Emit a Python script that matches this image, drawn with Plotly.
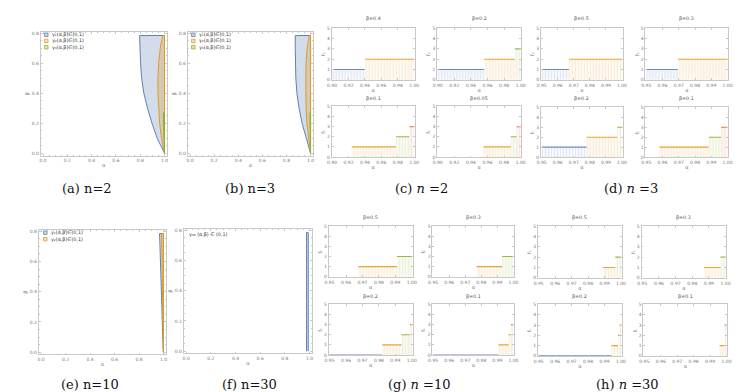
import plotly.graph_objects as go

W, H = 750, 392

# ---------------- region plots data (alpha boundaries vs beta) ----------------
beta_grid = [0.0, 0.1, 0.2, 0.3, 0.4, 0.5, 0.6, 0.7, 0.785]
n2_g1_left = [1.0, 0.94, 0.897, 0.86, 0.83, 0.812, 0.803, 0.798, 0.795]
n2_g2_left = [1.0, 0.975, 0.96, 0.95, 0.946, 0.946, 0.952, 0.965, 0.985]
n3_g1_left = [1.0, 0.962, 0.93, 0.905, 0.887, 0.878, 0.874, 0.873, 0.873]
n3_g2_left = [1.0, 0.982, 0.97, 0.963, 0.96, 0.96, 0.963, 0.972, 0.99]
green_beta = [0.0, 0.1, 0.2, 0.27]
n2_g3_left = [1.0, 0.994, 0.992, 0.992]
n3_g3_left = [1.0, 0.996, 0.995, 0.995]
wedge_beta = [0.0, 0.785]
n10_g1_left = [0.998, 0.968]
n10_g2_left = [1.0, 0.984]
n30_left = [0.976, 0.976]
n30_right = [0.99, 0.99]

legend_n2 = ["γ₁(α,β)∈(0,1)", "γ₂(α,β)∈(0,1)", "γ₃(α,β)∈(0,1)"]
legend_n10 = ["γ₁(α,β)∈(0,1)", "γ₂(α,β)∈(0,1)"]
legend_n30 = ["γ₃₀ (α,β) ∈ (0,1)"]

# ---------------- step plots data: (alpha_start, alpha_end, level, gamma index) ----------------
c_titles = ["β=0.4", "β=0.2", "β=0.1", "β=0.05"]
c_steps = [
    [(0.90, 0.94, 1, 0), (0.94, 1.00, 2, 1)],
    [(0.90, 0.956, 1, 0), (0.956, 0.993, 2, 1), (0.993, 1.0, 3, 2)],
    [(0.924, 0.978, 1, 1), (0.978, 0.994, 2, 2), (0.994, 1.0, 3, 3)],
    [(0.955, 0.988, 1, 1), (0.988, 0.995, 2, 2), (0.995, 1.0, 3, 3)],
]
d_titles = ["β=0.5", "β=0.3", "β=0.2", "β=0.1"]
d_steps = [
    [(0.95, 0.967, 1, 0), (0.967, 1.0, 2, 1)],
    [(0.95, 0.9695, 1, 0), (0.9695, 1.0, 2, 1)],
    [(0.95, 0.978, 1, 0), (0.978, 0.997, 2, 1), (0.997, 1.0, 3, 2)],
    [(0.958, 0.9885, 1, 1), (0.9885, 0.996, 2, 2), (0.996, 1.0, 3, 3)],
]
g_titles = ["β=0.5", "β=0.3", "β=0.2", "β=0.1"]
g_steps = [
    [(0.9675, 0.991, 1, 1), (0.991, 1.0, 2, 2)],
    [(0.977, 0.993, 1, 1), (0.993, 1.0, 2, 2)],
    [(0.95, 0.982, 0, 0), (0.982, 0.9937, 1, 1), (0.9937, 0.999, 2, 2), (0.999, 1.0, 3, 3)],
    [(0.95, 0.9906, 0, 0), (0.9906, 0.997, 1, 1), (0.997, 0.9986, 2, 2), (0.9986, 1.0, 3, 3)],
]
h_titles = ["β=0.5", "β=0.3", "β=0.2", "β=0.1"]
h_steps = [
    [(0.989, 0.9966, 1, 1), (0.9966, 1.0, 2, 2)],
    [(0.987, 0.997, 1, 1), (0.997, 1.0, 2, 2)],
    [(0.95, 0.9942, 0, 0), (0.9942, 0.9982, 1, 1), (0.9982, 0.9992, 2, 2), (0.9992, 1.0, 3, 3)],
    [(0.9958, 0.9988, 1, 1), (0.9988, 1.0, 3, 3)],
]
c_ticks = [0.90, 0.92, 0.94, 0.96, 0.98, 1.00]
dgh_ticks = [0.95, 0.96, 0.97, 0.98, 0.99, 1.00]
level_ticks = [0, 1, 2, 3, 4, 5]
region_xticks = [0.0, 0.2, 0.4, 0.6, 0.8, 1.0]
region_yticks = [0.0, 0.2, 0.4, 0.6, 0.8]

captions = ["(a) n=2", "(b) n=3", "(c) <i>n</i> =2", "(d) <i>n</i> =3",
            "(e) n=10", "(f) n=30", "(g) <i>n</i> =10", "(h) <i>n</i> =30"]

# ---------------- styles ----------------
COLS = [(94, 129, 181), (225, 156, 36), (143, 176, 50), (235, 98, 53)]
def rgb(i, a=1.0):
    r, g, b = COLS[i]
    return f"rgba({r},{g},{b},{a})"

FRAME = "#c8c8c8"
TICKF = dict(size=4.5, color="#777", family="DejaVu Sans")
TITLEF = dict(size=5, color="#777", family="DejaVu Sans")

fig = go.Figure()
layout = {}
annotations = []
shapes = []

def px_dom_x(a, b):
    return [a / W, b / W]

def px_dom_y(top, bot):
    return [1 - bot / H, 1 - top / H]

axis_count = [0]

def new_axes(xpx, ypx, xr, yr, xt, yt, xfmt, xtitle, ytitle, minor_x=None, minor_y=None):
    axis_count[0] += 1
    i = axis_count[0]
    sx = "" if i == 1 else str(i)
    common = dict(showline=True, mirror="ticks", linecolor=FRAME, linewidth=0.8,
                  ticks="inside", ticklen=2, tickcolor=FRAME, tickwidth=0.6,
                  showgrid=False, zeroline=False, tickfont=TICKF, fixedrange=True)
    xa = dict(common, domain=px_dom_x(*xpx), range=xr, tickvals=xt,
              ticktext=[format(v, xfmt) for v in xt], anchor="y" + sx,
              title=dict(text=xtitle, font=TITLEF, standoff=1))
    ya = dict(common, domain=px_dom_y(*ypx), range=yr, tickvals=yt,
              ticktext=[format(v, ".1f") if isinstance(v, float) else str(v) for v in yt],
              anchor="x" + sx, title=dict(text=ytitle, font=TITLEF, standoff=1))
    if minor_x:
        xa["minor"] = dict(ticks="inside", ticklen=1, dtick=minor_x, tickcolor=FRAME)
    if minor_y:
        ya["minor"] = dict(ticks="inside", ticklen=1, dtick=minor_y, tickcolor=FRAME)
    layout["xaxis" + sx] = xa
    layout["yaxis" + sx] = ya
    return "x" + sx, "y" + sx

def region(xa, ya, betas, left, right, ci):
    if right is None:
        right = [1.0] * len(left)
    xs = list(left) + list(reversed(right))
    ys = list(betas) + list(reversed(betas))
    fig.add_trace(go.Scatter(x=xs, y=ys, fill="toself", mode="lines",
                             line=dict(color=rgb(ci), width=1),
                             fillcolor=rgb(ci, 0.28), xaxis=xa, yaxis=ya,
                             showlegend=False, hoverinfo="skip"))

def legend(items, x0, y0, dy, square=True):
    for k, t in enumerate(items):
        yc = y0 + k * dy
        tx = x0
        if square:
            shapes.append(dict(type="rect", xref="paper", yref="paper",
                               x0=x0 / W, x1=(x0 + 3.5) / W,
                               y0=1 - (yc + 1.75) / H, y1=1 - (yc - 1.75) / H,
                               line=dict(color=rgb(k), width=0.8), fillcolor=rgb(k, 0.3)))
            tx = x0 + 5
        annotations.append(dict(text=t, x=tx / W, y=1 - yc / H, xref="paper", yref="paper",
                                xanchor="left", yanchor="middle", showarrow=False,
                                font=dict(size=4.8, color="#333", family="DejaVu Sans")))

RX = [-0.02, 1.02]
RY = [-0.015, 0.81]

# (a)
xa, ya = new_axes((28, 156), (22, 147), RX, RY, region_xticks, region_yticks, ".1f", "α", "β", 0.05, 0.05)
region(xa, ya, beta_grid, n2_g1_left, None, 0)
region(xa, ya, beta_grid, n2_g2_left, None, 1)
region(xa, ya, green_beta, n2_g3_left, None, 2)
legend(legend_n2, 32, 25, 6.3)
# (b)
xa, ya = new_axes((177, 304), (22, 147), RX, RY, region_xticks, region_yticks, ".1f", "α", "β", 0.05, 0.05)
region(xa, ya, beta_grid, n3_g1_left, None, 0)
region(xa, ya, beta_grid, n3_g2_left, None, 1)
region(xa, ya, green_beta, n3_g3_left, None, 2)
legend(legend_n2, 181, 25, 6.3)
# (e)
xa, ya = new_axes((26, 155), (222, 348), RX, RY, region_xticks, region_yticks, ".1f", "α", "β", 0.05, 0.05)
region(xa, ya, wedge_beta, n10_g1_left, None, 0)
region(xa, ya, wedge_beta, n10_g2_left, None, 1)
legend(legend_n10, 31, 225, 6.5)
# (f)
xa, ya = new_axes((173, 303), (221, 347), RX, RY, region_xticks, region_yticks, ".1f", "α", "β", 0.05, 0.05)
region(xa, ya, wedge_beta, n30_left, n30_right, 0)
legend(legend_n30, 176, 227, 6.5, square=False)

def step_panel(boxes, titles, steps, xticks, title_ys):
    for (xpx, ypx), title, segs, ty in zip(boxes, titles, steps, title_ys):
        xa, ya = new_axes(xpx, ypx, [xticks[0] - 0.0005, xticks[-1] + 0.0005], [-0.05, 5.05],
                          xticks, level_ticks, ".2f", "α", "fₖ")
        for (x0, x1, lvl, ci) in segs:
            kw = {}
            if lvl > 0:
                kw = dict(fill="tozeroy", fillcolor="rgba(255,255,255,0)",
                          fillpattern=dict(shape="|", size=3, solidity=0.22,
                                           fgcolor=rgb(ci, 0.45), bgcolor=rgb(ci, 0.06)))
            fig.add_trace(go.Scatter(x=[x0, x1], y=[lvl, lvl], mode="lines",
                                     line=dict(color=rgb(ci, 0.9), width=1.1),
                                     xaxis=xa, yaxis=ya, showlegend=False,
                                     hoverinfo="skip", **kw))
        annotations.append(dict(text=title, x=(xpx[0] + xpx[1]) / 2 / W, y=1 - ty / H,
                                xref="paper", yref="paper", showarrow=False,
                                xanchor="center", yanchor="middle",
                                font=dict(size=4.8, color="#555", family="DejaVu Sans")))

step_panel([((323, 407), (18, 71)), ((430, 515), (18, 71)), ((323, 407), (97, 149)), ((430, 515), (97, 149))],
           c_titles, c_steps, c_ticks, [9, 9, 89, 89])
step_panel([((535, 618), (18, 71)), ((641, 725), (18, 71)), ((535, 618), (98, 149)), ((641, 725), (98, 149))],
           d_titles, d_steps, dgh_ticks, [9, 9, 89, 89])
step_panel([((320, 405), (218, 270)), ((425, 508), (218, 270)), ((320, 405), (297, 349)), ((425, 508), (297, 349))],
           g_titles, g_steps, dgh_ticks, [210, 210, 289, 289])
step_panel([((532, 617), (218, 271)), ((637, 723), (218, 271)), ((532, 617), (297, 350)), ((639, 724), (297, 350))],
           h_titles, h_steps, dgh_ticks, [210, 210, 289, 289])

cap_pos = [(75, 180), (240, 180), (414, 180), (626, 180), (78, 378), (240, 378), (412, 378), (623, 378)]
for text, (cx, cy) in zip(captions, cap_pos):
    annotations.append(dict(text=text, x=cx / W, y=1 - cy / H, xref="paper", yref="paper",
                            showarrow=False, xanchor="center", yanchor="middle",
                            font=dict(size=13, color="#111", family="DejaVu Serif")))

fig.update_layout(width=W, height=H, margin=dict(l=0, r=0, t=0, b=0),
                  paper_bgcolor="white", plot_bgcolor="white",
                  annotations=annotations, shapes=shapes, showlegend=False, **layout)

fig.write_html("out.html")
